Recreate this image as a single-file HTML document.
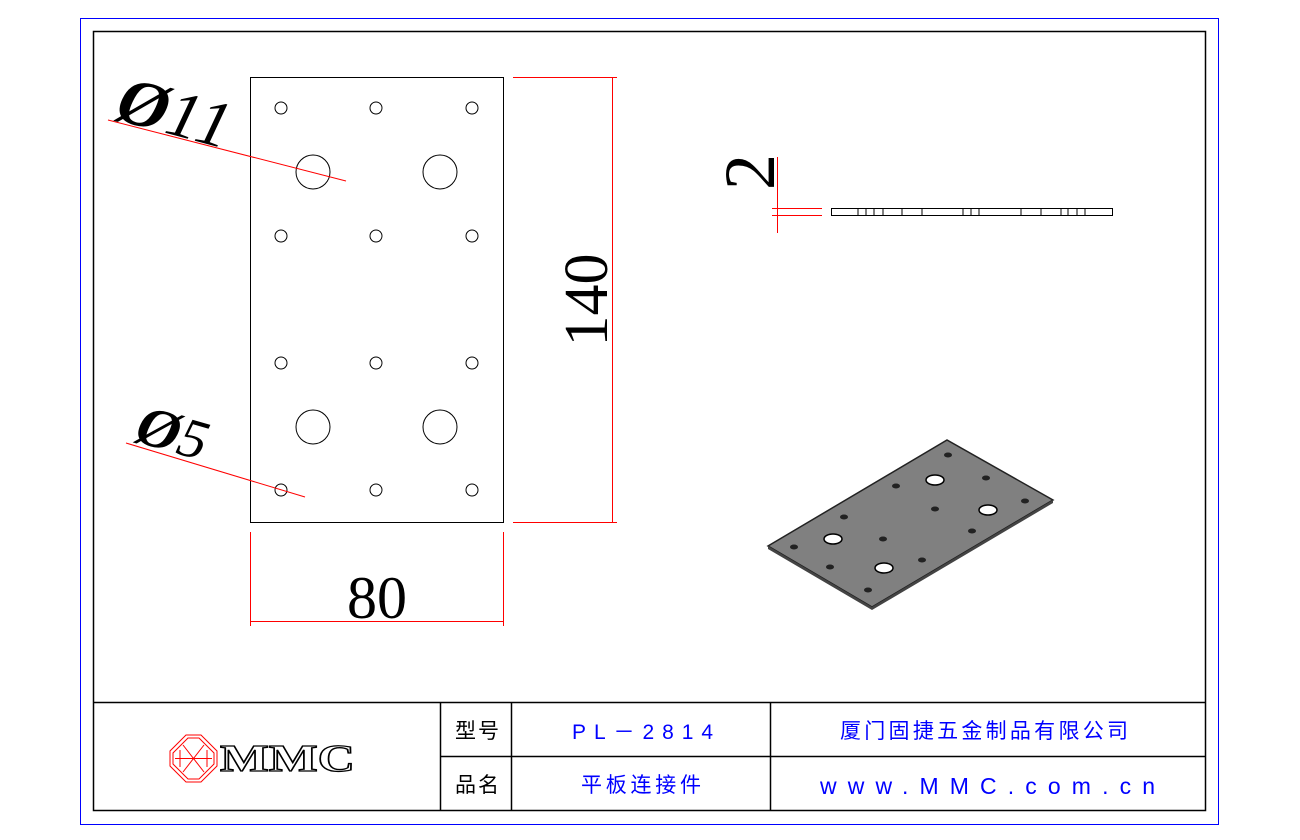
<!DOCTYPE html>
<html><head><meta charset="utf-8"><style>
html,body{margin:0;padding:0;background:#fff;}
svg{display:block;}
</style></head><body>
<svg width="1300" height="840" viewBox="0 0 1300 840" xmlns="http://www.w3.org/2000/svg">
<rect x="80.5" y="18.5" width="1138" height="806" fill="none" stroke="#0000ff" stroke-width="1"/>
<rect x="93.5" y="31.5" width="1112" height="779" fill="none" stroke="#000" stroke-width="1.5"/>
<g stroke="#000" stroke-width="1.5" fill="none">
<line x1="93" y1="702.5" x2="1205" y2="702.5"/>
<line x1="440.5" y1="756.5" x2="1205" y2="756.5"/>
<line x1="440.5" y1="702" x2="440.5" y2="810"/>
<line x1="511.5" y1="702" x2="511.5" y2="810"/>
<line x1="770.5" y1="702" x2="770.5" y2="810"/>
</g>
<g font-family="'Liberation Sans','Noto Sans CJK SC',sans-serif" font-size="21">
<text x="455" y="738" textLength="44" lengthAdjust="spacing" fill="#000">型号</text>
<text x="455" y="792" textLength="44" lengthAdjust="spacing" fill="#000">品名</text>
<text x="572" y="739" textLength="141" lengthAdjust="spacing" fill="#0000ff">PL－2814</text>
<text x="581" y="792" textLength="120" lengthAdjust="spacing" fill="#0000ff">平板连接件</text>
<text x="840" y="738" textLength="288" lengthAdjust="spacing" fill="#0000ff">厦门固捷五金制品有限公司</text>
<text x="820" y="794" textLength="335" lengthAdjust="spacing" font-size="23" fill="#0000ff">www.MMC.com.cn</text>
</g>
<g stroke="#f00" fill="none" stroke-width="1">
<polygon points="186,735 201,735 217,751 217,766 201,782 186,782 170,766 170,751"/>
<polygon points="188,738 199,738 214,753 214,764 199,779 188,779 173,764 173,753"/>
<line x1="183" y1="745" x2="204" y2="772"/><line x1="204" y1="745" x2="183" y2="772"/>
<line x1="175" y1="758.5" x2="212" y2="758.5"/>
<line x1="180" y1="750" x2="180" y2="767"/><line x1="207" y1="750" x2="207" y2="767"/>
</g>
<text x="220" y="771" textLength="135" lengthAdjust="spacingAndGlyphs" font-family="'Liberation Serif',serif" font-weight="bold" font-size="38" fill="#fff" stroke="#000" stroke-width="1.3">MMC</text>
<rect x="250.5" y="77.5" width="253" height="445" fill="none" stroke="#000" stroke-width="1"/>
<g fill="none" stroke="#000" stroke-width="1">
<circle cx="281" cy="108" r="6"/><circle cx="376" cy="108" r="6"/><circle cx="472" cy="108" r="6"/>
<circle cx="281" cy="236" r="6"/><circle cx="376" cy="236" r="6"/><circle cx="472" cy="236" r="6"/>
<circle cx="281" cy="363" r="6"/><circle cx="376" cy="363" r="6"/><circle cx="472" cy="363" r="6"/>
<circle cx="281" cy="490" r="6"/><circle cx="376" cy="490" r="6"/><circle cx="472" cy="490" r="6"/>
<circle cx="313" cy="172" r="17"/><circle cx="440" cy="172" r="17"/>
<circle cx="313" cy="427" r="17"/><circle cx="440" cy="427" r="17"/>
</g>
<g stroke="#f00" stroke-width="1" fill="none">
<line x1="513" y1="77.5" x2="617" y2="77.5"/>
<line x1="513" y1="522.5" x2="617" y2="522.5"/>
<line x1="612.5" y1="77" x2="612.5" y2="522"/>
<line x1="250.5" y1="532" x2="250.5" y2="626"/>
<line x1="503.5" y1="532" x2="503.5" y2="626"/>
<line x1="250" y1="621.5" x2="503" y2="621.5"/>
<line x1="108" y1="120" x2="346" y2="181"/>
<line x1="126" y1="443" x2="305" y2="497"/>
<line x1="772" y1="208.5" x2="822" y2="208.5"/>
<line x1="772" y1="215.5" x2="822" y2="215.5"/>
<line x1="777.5" y1="157" x2="777.5" y2="233"/>
</g>
<g font-family="'Liberation Serif',serif" fill="#000">
<text transform="translate(607,300) rotate(-90)" font-size="62" text-anchor="middle">140</text>
<text x="377" y="618" font-size="60" text-anchor="middle">80</text>
<text transform="translate(110,118) rotate(15) skewX(-10)" font-size="66"><tspan font-weight="bold">Ø</tspan>11</text>
<text transform="translate(130,440) rotate(16) skewX(-10)" font-size="56"><tspan font-weight="bold">Ø</tspan>5</text>
<text transform="translate(774,172) rotate(-90)" font-size="72" text-anchor="middle">2</text>
</g>
<g stroke="#000" stroke-width="1" fill="none">
<rect x="831.5" y="208.5" width="281" height="7"/>
<path d="M858 208v7M866 208v7M874 208v7M883 208v7M902 208v7M922 208v7M963 208v7M971 208v7M979 208v7M1021 208v7M1041 208v7M1061 208v7M1068 208v7M1077 208v7M1085 208v7"/>
</g>
<polygon points="768,546 947,440 1053,500 872,607" fill="#808080" stroke="#222" stroke-width="1.5"/>
<polygon points="768,546 872,607 1053,500 1053,503 872,610 768,549" fill="#444"/>
<g fill="#fff" stroke="#000" stroke-width="1.5">
<ellipse cx="935" cy="480" rx="9" ry="5"/><ellipse cx="988" cy="510" rx="9" ry="5"/>
<ellipse cx="833" cy="539" rx="9" ry="5"/><ellipse cx="884" cy="568" rx="9" ry="5"/>
</g>
<g fill="#222">
<ellipse cx="948" cy="455" rx="4" ry="2.5"/><ellipse cx="896" cy="486" rx="4" ry="2.5"/>
<ellipse cx="986" cy="478" rx="4" ry="2.5"/><ellipse cx="1025" cy="501" rx="4" ry="2.5"/>
<ellipse cx="844" cy="517" rx="4" ry="2.5"/><ellipse cx="935" cy="509" rx="4" ry="2.5"/>
<ellipse cx="972" cy="531" rx="4" ry="2.5"/><ellipse cx="794" cy="547" rx="4" ry="2.5"/>
<ellipse cx="883" cy="539" rx="4" ry="2.5"/><ellipse cx="830" cy="567" rx="4" ry="2.5"/>
<ellipse cx="922" cy="560" rx="4" ry="2.5"/><ellipse cx="868" cy="590" rx="4" ry="2.5"/>
</g>
</svg>
</body></html>
